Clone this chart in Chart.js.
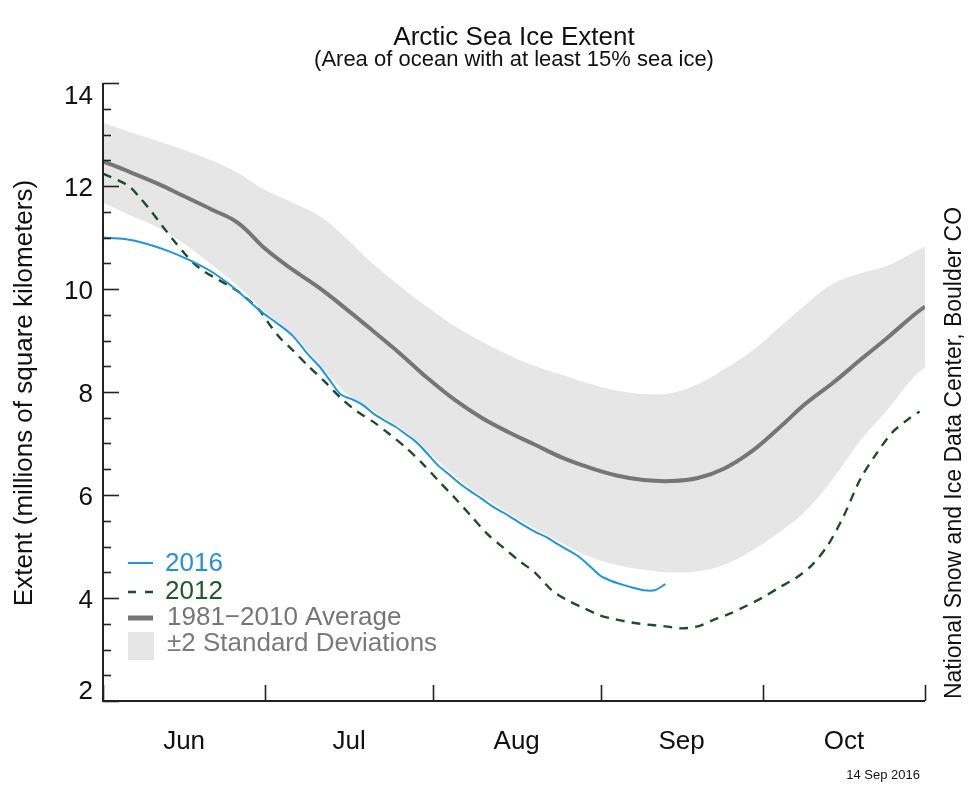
<!DOCTYPE html>
<html>
<head>
<meta charset="utf-8">
<script src="https://cdn.jsdelivr.net/npm/chart.js@4.4.1/dist/chart.umd.min.js"></script>
<style>
  html, body { margin: 0; padding: 0; background: #fff; }
  #wrap { width: 976px; height: 790px; }
</style>
</head>
<body>
<div id="wrap"><canvas id="iceChart" width="976" height="790"></canvas></div>
<script>
// days counted from 1 June (0) to 31 October (152)
const bandDays = [0, 5, 10, 15, 20, 25, 30, 35, 40, 45, 50, 55, 60, 65, 70, 75, 80, 85, 90, 95, 100, 105, 110, 115, 120, 125, 130, 135, 140, 145, 150, 152];
const avgExtent = [12.48, 12.27, 12.05, 11.80, 11.55, 11.28, 10.78, 10.38, 10.02, 9.61, 9.18, 8.74, 8.27, 7.85, 7.50, 7.22, 6.97, 6.72, 6.53, 6.38, 6.29, 6.27, 6.33, 6.52, 6.85, 7.30, 7.78, 8.18, 8.62, 9.05, 9.50, 9.66];
const upperExtent = [13.23, 13.05, 12.88, 12.70, 12.50, 12.25, 11.92, 11.68, 11.42, 10.98, 10.48, 10.05, 9.65, 9.28, 8.98, 8.72, 8.50, 8.33, 8.16, 8.03, 7.96, 7.98, 8.15, 8.45, 8.80, 9.25, 9.70, 10.10, 10.30, 10.45, 10.72, 10.82];
const lowerExtent = [11.68, 11.43, 11.20, 10.88, 10.48, 10.05, 9.55, 9.12, 8.55, 7.97, 7.62, 7.30, 6.85, 6.38, 5.98, 5.65, 5.34, 5.06, 4.80, 4.64, 4.55, 4.50, 4.52, 4.65, 4.92, 5.27, 5.70, 6.32, 7.05, 7.65, 8.30, 8.48];

const days2016 = [0, 4, 8, 12, 16, 20, 23, 26, 29, 32, 35, 38, 40, 42, 44, 46, 48, 50, 52, 54, 56, 58, 60, 62, 64, 66, 68, 70, 72, 74, 76, 78, 80, 82, 84, 86, 88, 90, 92, 94, 96, 98, 100, 102, 104];
const extent2016 = [11.00, 10.97, 10.88, 10.74, 10.56, 10.34, 10.12, 9.86, 9.58, 9.35, 9.10, 8.72, 8.50, 8.22, 7.95, 7.86, 7.75, 7.58, 7.45, 7.33, 7.18, 7.02, 6.80, 6.57, 6.40, 6.22, 6.07, 5.93, 5.78, 5.66, 5.53, 5.40, 5.28, 5.18, 5.05, 4.93, 4.80, 4.62, 4.43, 4.33, 4.26, 4.20, 4.15, 4.15, 4.27];

const days2012 = [0, 3, 5, 7, 9, 11, 13, 15, 17, 19, 21, 23, 25, 27, 29, 31, 33, 35, 38, 41, 44, 47, 50, 53, 56, 59, 62, 65, 68, 71, 74, 77, 80, 83, 86, 89, 92, 95, 98, 101, 104, 107, 110, 113, 116, 119, 122, 125, 128, 131, 134, 137, 140, 143, 146, 149, 151];
const extent2012 = [12.24, 12.10, 11.98, 11.75, 11.50, 11.22, 10.95, 10.70, 10.48, 10.32, 10.20, 10.08, 9.95, 9.78, 9.58, 9.28, 9.02, 8.82, 8.50, 8.20, 7.88, 7.62, 7.42, 7.18, 6.92, 6.62, 6.28, 5.95, 5.60, 5.25, 4.98, 4.72, 4.48, 4.15, 3.95, 3.80, 3.66, 3.58, 3.52, 3.48, 3.45, 3.41, 3.45, 3.58, 3.70, 3.85, 4.01, 4.20, 4.38, 4.63, 5.02, 5.60, 6.30, 6.80, 7.22, 7.48, 7.62];

const monthStarts = [0, 30, 61, 92, 122, 152];
const monthNames = ['Jun', 'Jul', 'Aug', 'Sep', 'Oct'];
const yLabels = [2, 4, 6, 8, 10, 12, 14];

const FONT = '"Liberation Sans", Arial, Helvetica, sans-serif';

function toPoints(xs, ys) {
    return xs.map((x, i) => ({ x: x, y: ys[i] }));
}

const axesPlugin = {
    id: 'nsidcAxes',
    afterDraw(chart) {
        const ctx = chart.ctx;
        const xs = chart.scales.x;
        const ys = chart.scales.y;
        const area = chart.chartArea;
        ctx.save();

        // axis lines
        ctx.strokeStyle = '#222';
        ctx.lineWidth = 2;
        ctx.beginPath();
        ctx.moveTo(area.left, area.top);
        ctx.lineTo(area.left, area.bottom);
        ctx.lineTo(area.right, area.bottom);
        ctx.stroke();

        // y ticks, major every 2, minor every 0.5
        ctx.lineWidth = 1.6;
        for (let v = 2; v <= 14.001; v += 0.5) {
            const py = Math.round(ys.getPixelForValue(v)) + 0.5;
            const len = (Math.abs(v % 2) < 0.01) ? 16 : 8;
            ctx.beginPath();
            ctx.moveTo(area.left, py);
            ctx.lineTo(area.left + len, py);
            ctx.stroke();
        }

        // x ticks at month boundaries
        monthStarts.forEach(d => {
            const px = Math.round(xs.getPixelForValue(d)) + 0.5;
            ctx.beginPath();
            ctx.moveTo(px, area.bottom);
            ctx.lineTo(px, area.bottom - 16);
            ctx.stroke();
        });

        // y tick labels (end labels pulled inside like the original)
        ctx.fillStyle = '#111';
        ctx.font = '26px ' + FONT;
        ctx.textAlign = 'right';
        ctx.textBaseline = 'middle';
        yLabels.forEach(v => {
            let py = ys.getPixelForValue(v) + 3;
            if (v === 14) py = ys.getPixelForValue(v) + 14;
            if (v === 2) py = ys.getPixelForValue(v) - 9;
            ctx.fillText(String(v), area.left - 10, py);
        });

        // month labels centred in each month
        ctx.textAlign = 'center';
        monthNames.forEach((m, i) => {
            const mid = (monthStarts[i] + monthStarts[i + 1]) / 2;
            ctx.fillText(m, xs.getPixelForValue(mid), 742);
        });

        // titles
        const cx = (area.left + area.right) / 2;
        ctx.font = '26px ' + FONT;
        ctx.fillText('Arctic Sea Ice Extent', cx, 38);
        ctx.font = '22px ' + FONT;
        ctx.fillText('(Area of ocean with at least 15% sea ice)', cx, 60);

        // y axis title
        ctx.save();
        ctx.translate(25, 393);
        ctx.rotate(-Math.PI / 2);
        ctx.font = '26px ' + FONT;
        ctx.fillText('Extent (millions of square kilometers)', 0, 0);
        ctx.restore();

        // credit on the right
        ctx.save();
        ctx.translate(955, 453);
        ctx.rotate(-Math.PI / 2);
        ctx.font = '23px ' + FONT;
        ctx.fillText('National Snow and Ice Data Center, Boulder CO', 0, 0);
        ctx.restore();

        // date stamp
        ctx.font = '13px ' + FONT;
        ctx.textAlign = 'right';
        ctx.fillText('14 Sep 2016', 920, 775);

        // legend
        const lx = 128;
        ctx.textAlign = 'left';
        ctx.font = '26px ' + FONT;

        ctx.strokeStyle = '#1f96d8';
        ctx.lineWidth = 2;
        ctx.beginPath();
        ctx.moveTo(lx, 563); ctx.lineTo(lx + 25, 563);
        ctx.stroke();
        ctx.fillStyle = '#2a8fd6';
        ctx.fillText('2016', 165, 564);

        ctx.strokeStyle = '#1d4d2e';
        ctx.lineWidth = 2.4;
        ctx.setLineDash([8, 9]);
        ctx.beginPath();
        ctx.moveTo(lx, 592); ctx.lineTo(lx + 25, 592);
        ctx.stroke();
        ctx.setLineDash([]);
        ctx.fillStyle = '#1c5a2a';
        ctx.fillText('2012', 165, 592);

        ctx.strokeStyle = '#767676';
        ctx.lineWidth = 5;
        ctx.beginPath();
        ctx.moveTo(lx, 618); ctx.lineTo(lx + 25, 618);
        ctx.stroke();
        ctx.fillStyle = '#767676';
        ctx.fillText('1981\u22122010 Average', 167, 618);

        ctx.fillStyle = '#e6e6e6';
        ctx.fillRect(lx, 632, 26, 28);
        ctx.fillStyle = '#7a7a7a';
        ctx.fillText('\u00b12 Standard Deviations', 167, 644);

        ctx.restore();
    }
};

const iceChart = new Chart(document.getElementById('iceChart').getContext('2d'), {
    type: 'line',
    data: {
        datasets: [
            {
                label: 'upper',
                data: toPoints(bandDays, upperExtent),
                borderWidth: 0,
                borderColor: 'rgba(0,0,0,0)',
                backgroundColor: '#e6e6e6',
                fill: '+1',
                pointRadius: 0,
                tension: 0.4,
                order: 5
            },
            {
                label: 'lower',
                data: toPoints(bandDays, lowerExtent),
                borderWidth: 0,
                borderColor: 'rgba(0,0,0,0)',
                fill: false,
                pointRadius: 0,
                tension: 0.4,
                order: 5
            },
            {
                label: '1981-2010 Average',
                data: toPoints(bandDays, avgExtent),
                borderColor: '#767676',
                borderWidth: 4,
                fill: false,
                pointRadius: 0,
                tension: 0.4,
                order: 3
            },
            {
                label: '2012',
                data: toPoints(days2012, extent2012),
                borderColor: '#1d4d2e',
                borderWidth: 2.4,
                borderDash: [9, 7],
                fill: false,
                pointRadius: 0,
                tension: 0.3,
                order: 2
            },
            {
                label: '2016',
                data: toPoints(days2016, extent2016),
                borderColor: '#1f96d8',
                borderWidth: 2,
                fill: false,
                pointRadius: 0,
                tension: 0.3,
                order: 1
            }
        ]
    },
    options: {
        responsive: false,
        devicePixelRatio: 1,
        animation: false,
        layout: {
            padding: { left: 103, right: 51, top: 83, bottom: 89 }
        },
        scales: {
            x: { type: 'linear', min: 0, max: 152, display: false },
            y: { type: 'linear', min: 2, max: 14, display: false }
        },
        plugins: {
            legend: { display: false },
            tooltip: { enabled: false }
        }
    },
    plugins: [axesPlugin]
});
</script>
</body>
</html>
